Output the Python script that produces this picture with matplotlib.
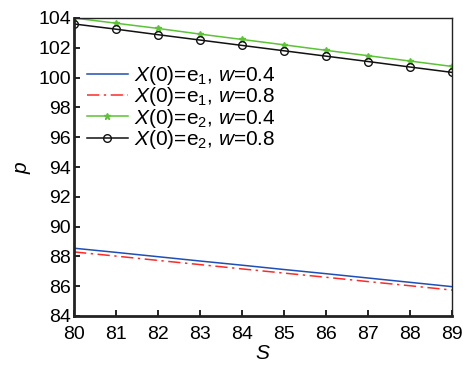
import matplotlib.pyplot as plt

plt.rcParams['font.family'] = ['Liberation Sans', 'DejaVu Sans']
plt.rcParams['mathtext.fontset'] = 'custom'
plt.rcParams['mathtext.it'] = 'Liberation Sans:italic'
plt.rcParams['mathtext.rm'] = 'Liberation Sans'

S = [80, 81, 82, 83, 84, 85, 86, 87, 88, 89]
p_e1_w04 = [88.55, 88.27, 87.98, 87.69, 87.41, 87.12, 86.84, 86.55, 86.26, 85.97]
p_e1_w08 = [88.30, 88.02, 87.73, 87.45, 87.16, 86.88, 86.60, 86.31, 86.03, 85.74]
p_e2_w04 = [104.00, 103.65, 103.30, 102.92, 102.56, 102.20, 101.83, 101.47, 101.11, 100.75]
p_e2_w08 = [103.60, 103.25, 102.88, 102.52, 102.16, 101.80, 101.44, 101.08, 100.71, 100.35]

labels = [r'$X$(0)=e$_1$, $w$=0.4',
          r'$X$(0)=e$_1$, $w$=0.8',
          r'$X$(0)=e$_2$, $w$=0.4',
          r'$X$(0)=e$_2$, $w$=0.8']

fig = plt.figure(figsize=(4.63, 3.69), dpi=100)
ax = fig.add_axes([74/463, 1 - 316/369, (452-74)/463, (316-18)/369])

ax.plot(S, p_e1_w04, color='#1f4fb4', lw=1.1, label=labels[0])
ax.plot(S, p_e1_w08, color='#ff2a2a', lw=1.1, ls=(0, (8, 3, 1.5, 3)), label=labels[1])
ax.plot(S, p_e2_w04, color='#5cc236', lw=1.1, marker='*', ms=5, label=labels[2])
ax.plot(S, p_e2_w08, color='#111111', lw=1.1, marker='o', ms=5.5, mfc='none', mew=1.0, label=labels[3])

ax.set_xlim(80, 89)
ax.set_ylim(84, 104)
ax.set_xticks(S)
ax.set_yticks(range(84, 105, 2))
ax.tick_params(direction='in', length=4, labelsize=14, width=1.2, pad=2)
ax.tick_params(axis='x', pad=7)

for side in ['left', 'bottom']:
    ax.spines[side].set_linewidth(2.0)
for side in ['top', 'right']:
    ax.spines[side].set_linewidth(1.0)
for sp in ax.spines.values():
    sp.set_color('#222222')

ax.set_xlabel(r'$S$', fontsize=15, labelpad=1)
ax.set_ylabel(r'$p$', fontsize=15, labelpad=4)

ax.legend(loc='upper left', bbox_to_anchor=(0.0, 0.888), frameon=False, fontsize=15,
          handlelength=2.0, handletextpad=0.3, labelspacing=-0.08, borderaxespad=0.2)

fig.savefig('out.png', dpi=100)
